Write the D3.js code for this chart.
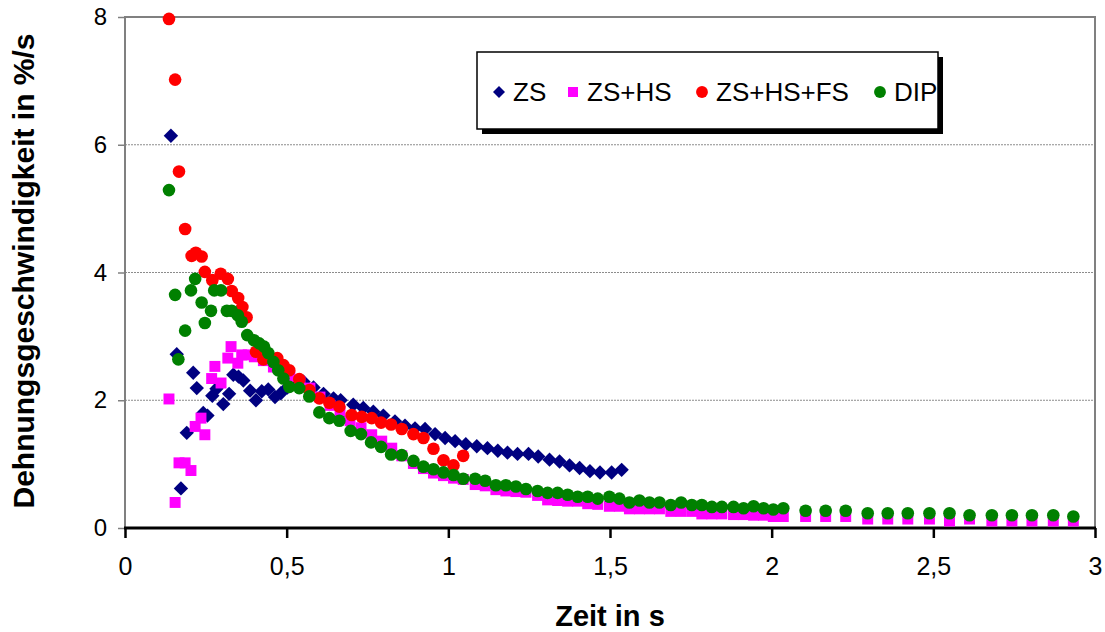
<!DOCTYPE html>
<html>
<head>
<meta charset="utf-8">
<script src="https://cdn.jsdelivr.net/npm/d3@7"></script>
<style>
  body { margin:0; background:#fff; }
  text { font-family: Arial, "Liberation Sans", sans-serif; }
</style>
</head>
<body>
<div id="plot"></div>
<script>
// series names, colours and symbols
var seriesNames = ['ZS', 'ZS+HS', 'ZS+HS+FS', 'DIP'];
var seriesColors = ['#000080', '#ff00ff', '#ff0000', '#008000'];
var seriesShapes = ['diamond', 'square', 'circle', 'circle'];

var xTicks = [0, 0.5, 1, 1.5, 2, 2.5, 3];
var yTicks = [0, 2, 4, 6, 8];

// [Zeit in s, Dehnungsgeschwindigkeit in %/s]
var zs = [
  [0.142,6.14],[0.160,2.72],[0.173,0.62],[0.191,1.49],[0.211,2.43],[0.222,2.19],
  [0.242,1.80],[0.255,1.76],[0.270,2.07],[0.283,2.18],[0.304,1.94],[0.322,2.10],
  [0.335,2.40],[0.351,2.37],[0.366,2.31],[0.387,2.15],[0.405,2.00],[0.423,2.14],
  [0.443,2.17],[0.464,2.05],[0.482,2.11],[0.502,2.20],[0.521,2.30],[0.552,2.29],
  [0.583,2.20],[0.614,2.10],[0.645,2.03],[0.667,2.00],[0.706,1.93],[0.737,1.88],
  [0.768,1.82],[0.799,1.76],[0.835,1.67],[0.866,1.60],[0.897,1.56],[0.928,1.55],
  [0.959,1.47],[0.990,1.41],[1.021,1.36],[1.054,1.31],[1.088,1.28],[1.121,1.25],
  [1.153,1.21],[1.183,1.18],[1.214,1.16],[1.248,1.16],[1.278,1.12],[1.313,1.07],
  [1.344,1.04],[1.375,0.98],[1.406,0.94],[1.438,0.89],[1.469,0.87],[1.505,0.87],
  [1.536,0.91]
];

var zsHs = [
  [0.136,2.02],[0.155,0.40],[0.167,1.02],[0.186,1.02],[0.204,0.90],[0.217,1.59],
  [0.235,1.72],[0.247,1.46],[0.268,2.34],[0.278,2.53],[0.297,2.27],[0.318,2.66],
  [0.328,2.84],[0.349,2.58],[0.361,2.71],[0.381,2.71],[0.400,2.68],[0.428,2.62],
  [0.459,2.52],[0.490,2.44],[0.510,2.37],[0.541,2.29],[0.572,2.19],[0.603,2.05],
  [0.634,1.92],[0.665,1.82],[0.696,1.68],[0.730,1.57],[0.763,1.46],[0.794,1.36],
  [0.825,1.25],[0.856,1.13],[0.892,1.01],[0.923,0.93],[0.954,0.86],[0.985,0.82],
  [1.016,0.78],[1.046,0.76],[1.083,0.68],[1.114,0.66],[1.147,0.60],[1.178,0.58],
  [1.209,0.57],[1.240,0.56],[1.276,0.51],[1.307,0.44],[1.338,0.43],[1.369,0.42],
  [1.400,0.42],[1.431,0.38],[1.462,0.37],[1.498,0.34],[1.529,0.34],[1.560,0.30],
  [1.591,0.30],[1.622,0.30],[1.653,0.30],[1.688,0.26],[1.720,0.26],[1.753,0.26],
  [1.784,0.22],[1.815,0.22],[1.846,0.22],[1.882,0.21],[1.913,0.21],[1.944,0.20],
  [1.975,0.20],[2.005,0.18],[2.036,0.18],[2.105,0.18],[2.167,0.18],[2.229,0.18],
  [2.297,0.14],[2.359,0.14],[2.421,0.14],[2.488,0.14],[2.550,0.11],[2.612,0.14],
  [2.681,0.11],[2.743,0.11],[2.805,0.11],[2.871,0.11],[2.933,0.11]
];

var zsHsFs = [
  [0.136,7.97],[0.155,7.02],[0.167,5.58],[0.186,4.68],[0.206,4.26],[0.219,4.31],
  [0.237,4.25],[0.247,4.01],[0.270,3.88],[0.296,3.98],[0.318,3.90],[0.330,3.71],
  [0.350,3.60],[0.363,3.46],[0.376,3.30],[0.405,2.76],[0.428,2.64],[0.449,2.66],
  [0.471,2.66],[0.490,2.55],[0.508,2.47],[0.539,2.33],[0.570,2.16],[0.601,2.03],
  [0.632,1.96],[0.663,1.90],[0.701,1.77],[0.732,1.74],[0.763,1.72],[0.792,1.65],
  [0.823,1.62],[0.856,1.55],[0.892,1.47],[0.923,1.41],[0.954,1.24],[0.985,1.06],
  [1.016,0.98],[1.046,1.13]
];

var dip = [
  [0.136,5.29],[0.155,3.65],[0.165,2.64],[0.186,3.09],[0.204,3.72],[0.217,3.90],
  [0.237,3.53],[0.247,3.21],[0.266,3.40],[0.276,3.72],[0.297,3.72],[0.315,3.40],
  [0.330,3.40],[0.349,3.33],[0.361,3.23],[0.378,3.02],[0.399,2.94],[0.415,2.89],
  [0.430,2.84],[0.443,2.74],[0.459,2.60],[0.474,2.47],[0.490,2.34],[0.508,2.21],
  [0.539,2.19],[0.570,2.06],[0.601,1.81],[0.632,1.72],[0.663,1.68],[0.698,1.52],
  [0.730,1.47],[0.761,1.34],[0.792,1.27],[0.823,1.15],[0.856,1.14],[0.892,1.05],
  [0.923,0.96],[0.954,0.92],[0.985,0.87],[1.016,0.83],[1.046,0.77],[1.083,0.77],
  [1.114,0.74],[1.147,0.67],[1.178,0.67],[1.209,0.65],[1.240,0.61],[1.276,0.58],
  [1.307,0.55],[1.338,0.55],[1.369,0.52],[1.400,0.49],[1.431,0.49],[1.462,0.46],
  [1.498,0.49],[1.529,0.46],[1.560,0.40],[1.591,0.43],[1.622,0.40],[1.653,0.40],
  [1.688,0.36],[1.720,0.40],[1.753,0.36],[1.784,0.36],[1.815,0.33],[1.846,0.33],
  [1.882,0.33],[1.913,0.31],[1.944,0.34],[1.975,0.31],[2.005,0.29],[2.036,0.31],
  [2.105,0.27],[2.167,0.27],[2.229,0.27],[2.297,0.23],[2.359,0.23],[2.421,0.23],
  [2.488,0.23],[2.550,0.23],[2.612,0.20],[2.681,0.20],[2.743,0.20],[2.805,0.20],
  [2.871,0.20],[2.933,0.18]
];

var allSeries = [zs, zsHs, zsHsFs, dip];

//Set up the drawing environment here
var W = 1105, H = 632;
var margin = {t:17, r:10, b:104, l:125};
var width = W - margin.l - margin.r,   // 970
    height = H - margin.t - margin.b;  // 511

var svg = d3.select('#plot')
  .append('svg')
  .attr('width', W)
  .attr('height', H);

var plot = svg.append('g')
  .attr('transform', 'translate(' + margin.l + ',' + margin.t + ')');

var x = d3.scaleLinear().domain([0, 3]).range([0, width]);
var y = d3.scaleLinear().domain([0, 8]).range([height, 0]);

// gridlines
plot.selectAll('.grid')
  .data(yTicks.filter(function(d){ return d > 0 && d < 8; }))
  .enter().append('line')
  .attr('x1', 0).attr('x2', width)
  .attr('y1', function(d){ return y(d); })
  .attr('y2', function(d){ return y(d); })
  .style('stroke', '#8c8c8c')
  .style('stroke-width', 1)
  .style('stroke-dasharray', '2,1');

// frame top / right / left
plot.append('path')
  .attr('d', 'M0,' + height + 'V0H' + width + 'V' + height)
  .style('fill', 'none')
  .style('stroke', '#808080')
  .style('stroke-width', 2);

// y axis
var yAxis = d3.axisLeft(y).tickValues(yTicks).tickSize(7).tickPadding(11)
  .tickFormat(function(d){ return d; });
var gy = plot.append('g').call(yAxis);
gy.select('.domain').remove();
gy.selectAll('line').style('stroke', '#808080').style('stroke-width', 1.5);
gy.selectAll('text').style('font-size', '24px').style('fill', '#000');

// x axis
var xAxis = d3.axisBottom(x).tickValues(xTicks).tickSize(10).tickPadding(19)
  .tickFormat(function(d){ return String(d).replace('.', ','); });
var gx = plot.append('g')
  .attr('transform', 'translate(0,' + height + ')')
  .call(xAxis);
gx.select('.domain').remove();
gx.selectAll('line').style('stroke', '#000').style('stroke-width', 2.5);
gx.selectAll('text').style('font-size', '25px').style('fill', '#000');
plot.append('line')
  .attr('x1', -1).attr('x2', width + 1)
  .attr('y1', height).attr('y2', height)
  .style('stroke', '#000').style('stroke-width', 3);

// symbols
var symType = {
  diamond: d3.symbolSquare,
  square: d3.symbolSquare,
  circle: d3.symbolCircle
};
var symSize = { diamond: 200, square: 120, circle: 125 };

allSeries.forEach(function(data, i){
  var shape = seriesShapes[i];
  var gen = d3.symbol().type(symType[shape]).size(symSize[shape]);
  plot.append('g')
    .selectAll('path')
    .data(data)
    .enter().append('path')
    .attr('d', gen)
    .attr('transform', function(d){
      return 'translate(' + x(d[0]) + ',' + y(d[1]) + ')' + (shape === 'diamond' ? ' rotate(45) scale(0.72)' : '');
    })
    .style('fill', seriesColors[i]);
});

// legend
var lg = svg.append('g').attr('transform', 'translate(477,52)');
var lw = 461, lh = 77;
lg.append('rect').attr('x', 5).attr('y', 5).attr('width', lw).attr('height', lh).style('fill', '#000');
lg.append('rect').attr('x', 0).attr('y', 0).attr('width', lw).attr('height', lh)
  .style('fill', '#fff').style('stroke', '#000').style('stroke-width', 1.5);

var legendX = [22, 96, 225, 403];
seriesNames.forEach(function(name, i){
  var shape = seriesShapes[i];
  var gen = d3.symbol().type(symType[shape])
    .size(shape === 'circle' ? 110 : 100);
  lg.append('path')
    .attr('d', gen)
    .attr('transform', 'translate(' + legendX[i] + ',' + 40 + ')' + (shape === 'diamond' ? ' rotate(45) scale(0.85)' : ''))
    .style('fill', seriesColors[i]);
  lg.append('text')
    .attr('x', legendX[i] + 14)
    .attr('y', 40)
    .attr('dy', '0.36em')
    .style('font-size', '26px')
    .text(name);
});

// axis titles
svg.append('text')
  .attr('x', margin.l + width / 2)
  .attr('y', 626)
  .attr('text-anchor', 'middle')
  .style('font-size', '29px')
  .style('font-weight', 'bold')
  .text('Zeit in s');

svg.append('text')
  .attr('transform', 'translate(34,271) rotate(-90)')
  .attr('text-anchor', 'middle')
  .style('font-size', '30px')
  .style('font-weight', 'bold')
  .text('Dehnungsgeschwindigkeit in %/s');
</script>
</body>
</html>
